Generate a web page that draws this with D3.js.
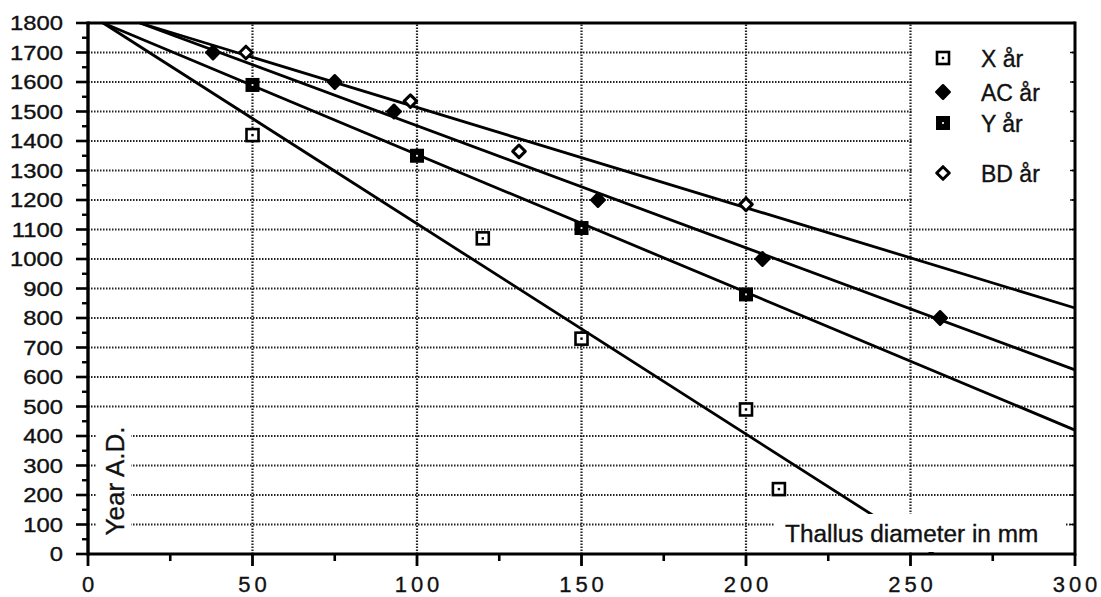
<!DOCTYPE html>
<html>
<head>
<meta charset="utf-8">
<script src="https://cdn.jsdelivr.net/npm/d3@7"></script>
<style>
  html, body { margin: 0; padding: 0; background: #fff; }
  svg { display: block; }
  text { font-family: "Liberation Sans", Arial, Helvetica, sans-serif; fill: #111; stroke: #111; stroke-width: 0.35px; }
</style>
</head>
<body>
<svg id="chart" width="1101" height="597"></svg>
<script>
// Lichen growth: thallus diameter (mm) against year A.D.
const xTickValues = [0, 50, 100, 150, 200, 250, 300];
const xMinorTicks = [25, 75, 125, 175, 225, 275];
const yTickValues = [0, 100, 200, 300, 400, 500, 600, 700, 800, 900, 1000,
                     1100, 1200, 1300, 1400, 1500, 1600, 1700, 1800];
const yMinorTicks = [50, 150, 250, 350, 450, 550, 650, 750, 850, 950, 1050,
                     1150, 1250, 1350, 1450, 1550, 1650, 1750];

// measured points: [diameter mm, year A.D.]
const pointsX  = [[50, 1420], [120, 1070], [150, 730], [200, 490], [210, 220]];
const pointsAC = [[38, 1700], [75, 1600], [93, 1500], [155, 1200], [205, 1000], [259, 800]];
const pointsY  = [[50, 1590], [100, 1350], [150, 1105], [200, 880]];
const pointsBD = [[48, 1700], [98, 1535], [131, 1365], [200, 1185]];

// growth curves: start and end [diameter mm, year A.D.]
const curveX  = [[4.6, 1800], [257, 0]];
const curveY  = [[4.6, 1800], [300, 420]];
const curveAC = [[15.8, 1800], [300, 624]];
const curveBD = [[15.8, 1800], [300, 834]];

const legendNames = ["X år", "AC år", "Y år", "BD år"];

const svg = d3.select("#chart");
const x = d3.scaleLinear().domain([0, 300]).range([88, 1075]);
const y = d3.scaleLinear().domain([0, 1800]).range([554, 23]);

// ---- grid ----
const grid = svg.append("g").attr("stroke", "#222").attr("stroke-width", 2.2).attr("stroke-dasharray", "1.5,1.5");
grid.selectAll("line.h").data(yTickValues.filter(v => v > 0 && v < 1800)).join("line")
  .attr("x1", x(0)).attr("x2", x(300))
  .attr("y1", d => y(d)).attr("y2", d => y(d));
grid.selectAll("line.v").data(xTickValues.filter(v => v > 0 && v < 300)).join("line")
  .attr("x1", d => x(d)).attr("x2", d => x(d))
  .attr("y1", y(0)).attr("y2", y(1800));

// ---- growth curves ----
const line = d3.line().x(d => x(d[0])).y(d => y(d[1]));
svg.append("g").selectAll("path").data([curveX, curveY, curveAC, curveBD]).join("path")
  .attr("d", line).attr("fill", "none").attr("stroke", "#000").attr("stroke-width", 2.8);

// ---- markers ----
function drawMarker(g, kind) {
  if (kind === 0) {        // open square with centre dot
    g.append("rect").attr("x", -6).attr("y", -6).attr("width", 12).attr("height", 12)
      .attr("fill", "#fff").attr("stroke", "#000").attr("stroke-width", 2.6);
    g.append("rect").attr("x", -1.2).attr("y", -1.2).attr("width", 2.4).attr("height", 2.4).attr("fill", "#000");
  } else if (kind === 1) { // filled rounded diamond
    g.append("path").attr("d", "M0,-6.8L6.8,0L0,6.8L-6.8,0Z")
      .attr("fill", "#000").attr("stroke", "#000").attr("stroke-width", 2.4).attr("stroke-linejoin", "round");
  } else if (kind === 2) { // filled square
    g.append("rect").attr("x", -7).attr("y", -7).attr("width", 14).attr("height", 14).attr("fill", "#000");
    g.append("rect").attr("x", -0.9).attr("y", -0.9).attr("width", 1.8).attr("height", 1.8).attr("fill", "#fff");
  } else {                 // open diamond
    g.append("path").attr("d", "M0,-6.3L6.3,0L0,6.3L-6.3,0Z")
      .attr("fill", "#fff").attr("stroke", "#000").attr("stroke-width", 3).attr("stroke-linejoin", "round");
  }
}
[pointsX, pointsAC, pointsY, pointsBD].forEach((pts, k) => {
  svg.append("g").selectAll("g").data(pts).join("g")
    .attr("transform", d => `translate(${x(d[0])},${y(d[1])})`)
    .each(function () { drawMarker(d3.select(this), k); });
});

// ---- blank panels behind legend and axis titles ----
svg.append("rect").attr("x", 912).attr("y", 24).attr("width", 160).attr("height", 191).attr("fill", "#fff");
svg.append("rect").attr("x", 97).attr("y", 418).attr("width", 34).attr("height", 135).attr("fill", "#fff");
svg.append("rect").attr("x", 775).attr("y", 514).attr("width", 291).attr("height", 38).attr("fill", "#fff");

// ---- axes ----
const ax = svg.append("g").attr("stroke", "#000");
ax.append("line").attr("x1", x(0)).attr("x2", x(300)).attr("y1", y(1800)).attr("y2", y(1800)).attr("stroke-width", 2.8);
ax.append("line").attr("x1", x(0)).attr("x2", x(300)).attr("y1", y(0)).attr("y2", y(0)).attr("stroke-width", 3.2);
ax.append("line").attr("x1", x(0)).attr("x2", x(0)).attr("y1", y(0) + 1.6).attr("y2", y(1800) - 1.4).attr("stroke-width", 3.4);
ax.append("line").attr("x1", x(300)).attr("x2", x(300)).attr("y1", y(0) + 1.6).attr("y2", y(1800) - 1.4).attr("stroke-width", 3);

// left ticks
ax.selectAll("line.yt").data(yTickValues).join("line")
  .attr("x1", x(0) - 12).attr("x2", x(0)).attr("y1", d => y(d)).attr("y2", d => y(d)).attr("stroke-width", 2.6);
ax.selectAll("line.ym").data(yMinorTicks).join("line")
  .attr("x1", x(0) - 6).attr("x2", x(0)).attr("y1", d => y(d)).attr("y2", d => y(d)).attr("stroke-width", 2.4);
// right inner ticks
ax.selectAll("line.yr").data(yTickValues).join("line")
  .attr("x1", x(300) - 5).attr("x2", x(300)).attr("y1", d => y(d)).attr("y2", d => y(d)).attr("stroke-width", 1.4);
// bottom ticks
ax.selectAll("line.xt").data(xTickValues).join("line")
  .attr("x1", d => x(d)).attr("x2", d => x(d)).attr("y1", y(0)).attr("y2", y(0) + 12).attr("stroke-width", 2.8);
ax.selectAll("line.xm").data(xMinorTicks).join("line")
  .attr("x1", d => x(d)).attr("x2", d => x(d)).attr("y1", y(0)).attr("y2", y(0) + 7).attr("stroke-width", 2.6);

// ---- tick labels ----
svg.append("g").selectAll("text").data(yTickValues).join("text")
  .attr("transform", d => `translate(63,${y(d) + 7}) scale(1.19,1)`)
  .attr("text-anchor", "end").style("font-size", "20px").text(d => d);
svg.append("g").selectAll("text").data(xTickValues).join("text")
  .attr("x", d => x(d) + 2).attr("y", 592)
  .attr("text-anchor", "middle").style("font-size", "22px").style("letter-spacing", "4px")
  .text(d => d);

// ---- axis titles ----
svg.append("text").attr("transform", `translate(124,481) rotate(-90)`)
  .attr("text-anchor", "middle").style("font-size", "26px").text("Year A.D.");
svg.append("text").attr("transform", "translate(785,541.5) scale(1.06,1)")
  .style("font-size", "23px").text("Thallus diameter in mm");

// ---- legend ----
const legendY = [58, 92, 123, 173];
legendNames.forEach((name, k) => {
  const g = svg.append("g").attr("transform", `translate(943,${legendY[k]})`);
  drawMarker(g, k);
  svg.append("text").attr("x", 981).attr("y", legendY[k] + 8.5)
    .style("font-size", "23px").text(name);
});
</script>
</body>
</html>
